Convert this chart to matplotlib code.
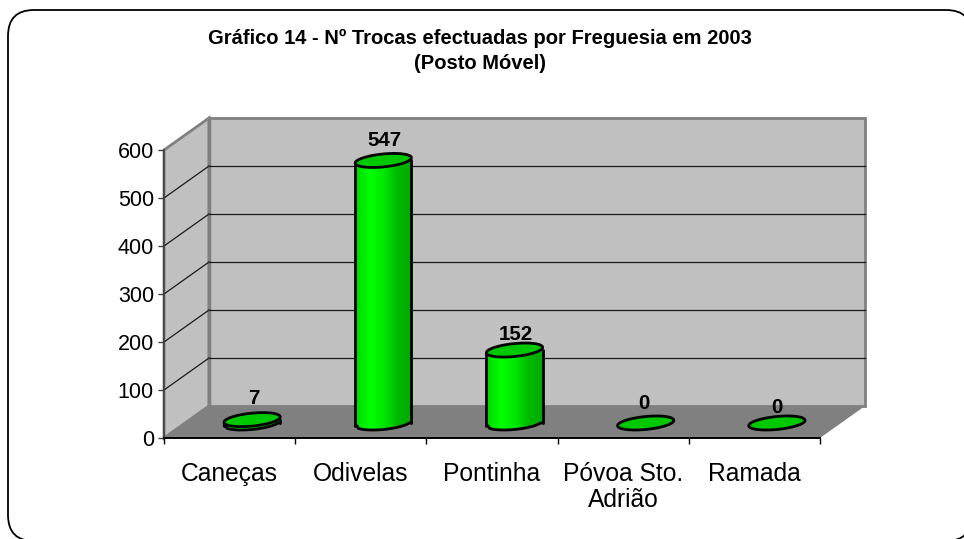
import numpy as np
import matplotlib
matplotlib.use('Agg')
import matplotlib.pyplot as plt
from matplotlib.patches import FancyBboxPatch, Polygon
from matplotlib.colors import LinearSegmentedColormap

plt.rcParams['font.family'] = ['Liberation Sans', 'DejaVu Sans']

categories = ['Caneças', 'Odivelas', 'Pontinha', 'Póvoa Sto.\nAdrião', 'Ramada']
values = [7, 547, 152, 0, 0]
yticks = [0, 100, 200, 300, 400, 500, 600]
title = 'Gráfico 14 - Nº Trocas efectuadas por Freguesia em 2003\n(Posto Móvel)'

W, H = 964, 539
fig = plt.figure(figsize=(W/100, H/100), dpi=100)

# frame in pixels, runs off the right and bottom of the picture
bg = fig.add_axes([0, 0, 1, 1])
bg.set_xlim(0, W)
bg.set_ylim(H, 0)
bg.axis('off')
bg.add_patch(FancyBboxPatch((8, 10), 964, 531, boxstyle='round,pad=0,rounding_size=26',
                            fc='white', ec='black', lw=1.3))

# main axes = front plane of the 3d box
x0, x1, y0, y1 = 164, 820, 438, 150
ax = fig.add_axes([x0/W, 1-y0/H, (x1-x0)/W, (y0-y1)/H])
ax.set_xlim(0, 5)
ax.set_ylim(0, 600)
ax.patch.set_alpha(0)
for s in ['top', 'right']:
    ax.spines[s].set_visible(False)
ax.spines['left'].set_color('#404040')
ax.spines['bottom'].set_color('black')
ax.spines['left'].set_linewidth(1.2)
ax.spines['bottom'].set_linewidth(1.2)

# depth of the box in data units
ppx = (x1-x0)/5
ppy = (y0-y1)/600
dx = 45/ppx
dy = 32/ppy

wall_grey = '#c0c0c0'
edge_grey = '#808080'
ax.add_patch(Polygon([(dx, dy), (5+dx, dy), (5+dx, 600+dy), (dx, 600+dy)], fc=wall_grey,
                     ec=edge_grey, lw=2, clip_on=False, zorder=1))
ax.add_patch(Polygon([(0, 0), (dx, dy), (dx, 600+dy), (0, 600)], fc=wall_grey,
                     ec=edge_grey, lw=2, clip_on=False, zorder=1))
ax.add_patch(Polygon([(0, 0), (5, 0), (5+dx, dy), (dx, dy)], fc=edge_grey,
                     ec='none', clip_on=False, zorder=1.5))
ax.plot([dx, dx], [dy, 600+dy], color=edge_grey, lw=2.5, clip_on=False, zorder=1.6)

for v in yticks[1:-1]:
    ax.plot([0, dx], [v, v+dy], color='#1a1a1a', lw=0.9, clip_on=False, zorder=2)
    ax.plot([dx, 5+dx], [v+dy, v+dy], color='#1a1a1a', lw=0.9, clip_on=False, zorder=2)
ax.plot([0, 5], [0, 0], color='black', lw=1.2, clip_on=False, zorder=2)

ax.set_yticks(yticks)
ax.set_xticks(range(6))
ax.set_xticklabels([])
ax.tick_params(axis='y', labelsize=15.5, length=4.3, width=1, pad=3, color='#404040')
ax.tick_params(axis='x', length=4.3, width=1, color='black')

for i, c in enumerate(categories):
    ax.annotate(c, (i+0.5, 0), xytext=(0, -17.5), textcoords='offset points', ha='center', va='top',
                fontsize=17.7, linespacing=1.1, annotation_clip=False)

# cylinders
green = LinearSegmentedColormap.from_list('g', ['#00d800', '#00ff00', '#00e800', '#00b800', '#00a800'])
a, b, c_ = 26/ppx, 10.7/ppx, 7/ppy
t = np.linspace(0, 2*np.pi, 120)
label_off = [(1, 15), (1, 14.5), (1, 11), (-1, 14), (0, 11)]

for i, v in enumerate(values):
    cx = i + 0.5 + dx/2
    cy = 15/ppy
    ex = a*np.cos(t) + b*np.sin(t)
    ey = c_*np.sin(t)
    if v > 0:
        # body drawn in vertical strips, each one follows the front of the ellipse
        hw = np.hypot(a, b)
        xs = np.linspace(-hw, hw, 57)
        tt = np.linspace(np.pi, 2*np.pi, 200)
        fx = a*np.cos(tt) + b*np.sin(tt)
        fy = c_*np.sin(tt)
        order = np.argsort(fx)
        low = np.interp(xs, fx[order], fy[order])
        for k in range(len(xs)-1):
            col = green(k/(len(xs)-2))
            ax.fill_between(xs[k:k+3]+cx, cy+low[k:k+3], cy+v+low[k:k+3], color=col, lw=0,
                            clip_on=False, zorder=3)
        ax.plot(xs+cx, cy+low, color='black', lw=2, solid_capstyle='round', clip_on=False, zorder=3.5)
        ax.plot([cx-hw, cx-hw], [cy+low[0], cy+v+low[0]], color='black', lw=2, solid_capstyle='round',
                clip_on=False, zorder=3.5)
        ax.plot([cx+hw, cx+hw], [cy+low[-1], cy+v+low[-1]], color='black', lw=2, solid_capstyle='round',
                clip_on=False, zorder=3.5)
    ax.fill(cx+ex, cy+v+ey, fc='#00c800', ec='black', lw=2, clip_on=False, zorder=4)
    ax.annotate(str(v), (cx, cy+v), xytext=label_off[i], textcoords='offset points', ha='center',
                va='center', fontsize=14.8, fontweight='bold', annotation_clip=False, zorder=5)

fig.text(480/W, 1-51/H, title, ha='center', va='center', fontsize=14.5, fontweight='bold', linespacing=1.35)

fig.savefig('out.png', dpi=100)
